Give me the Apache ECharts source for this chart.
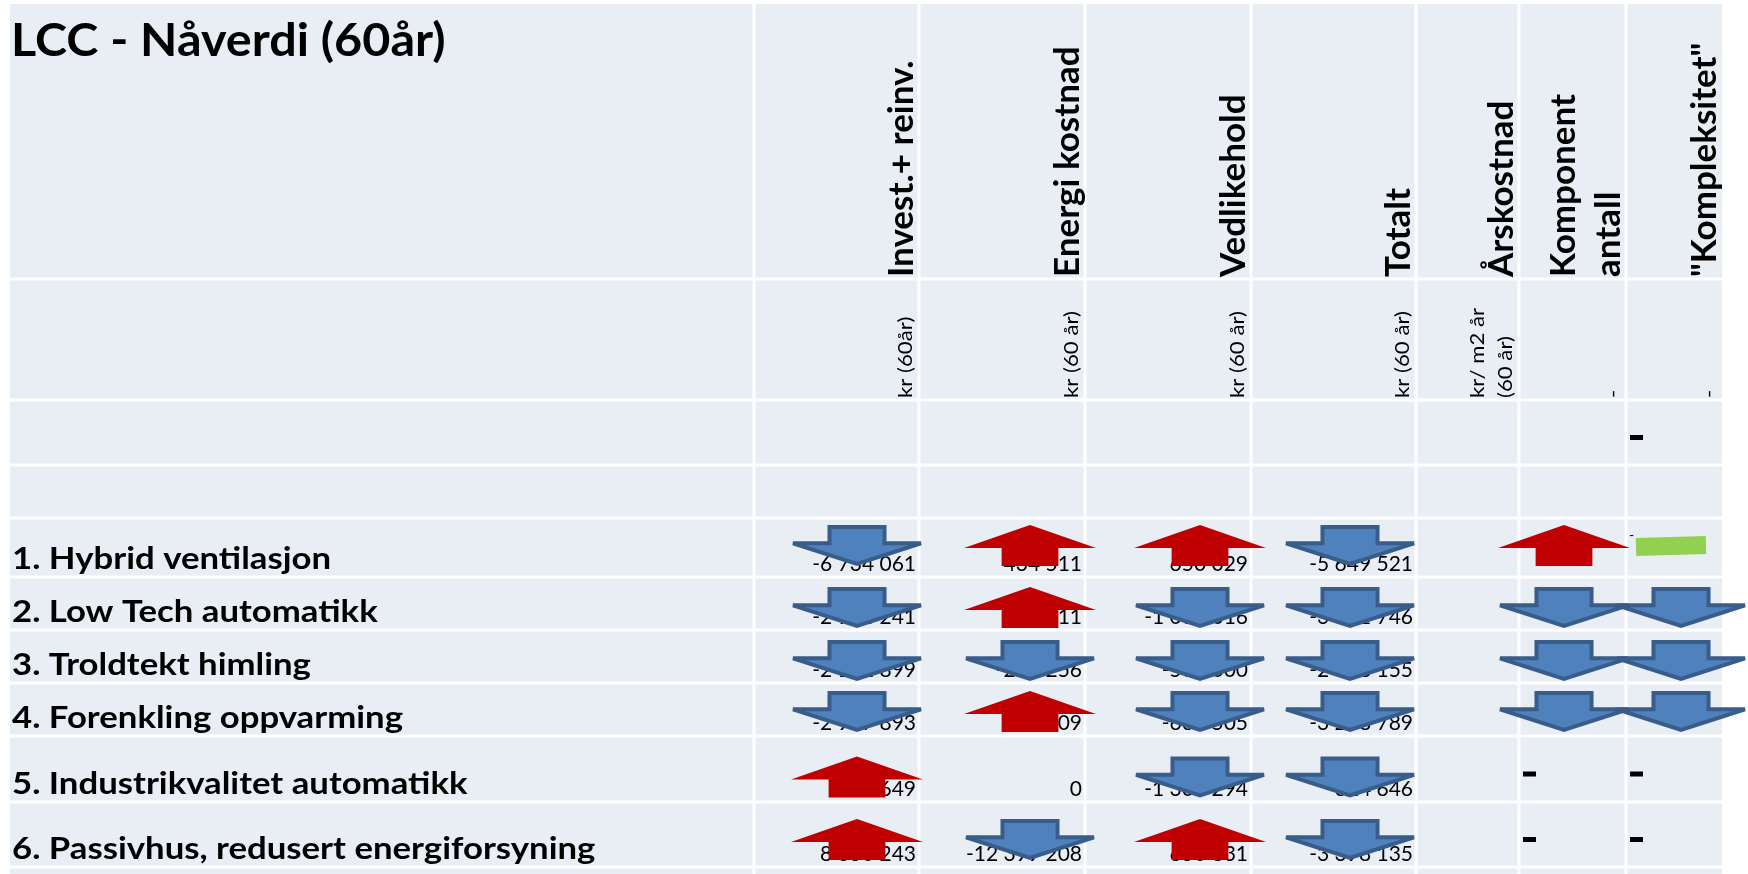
<!DOCTYPE html>
<html>
<head>
<meta charset="utf-8">
<script src="https://cdn.jsdelivr.net/npm/echarts@6/dist/echarts.min.js"></script>
<style>
  html, body { margin: 0; padding: 0; background: #ffffff; }
  #chart { width: 1748px; height: 874px; }
</style>
</head>
<body>
<div id="chart"></div>
<script>
// ---- data -------------------------------------------------------------
const title = 'LCC - Nåverdi (60år)';
const measures = [
  '1. Hybrid ventilasjon',
  '2. Low Tech automatikk',
  '3. Troldtekt himling',
  '4. Forenkling oppvarming',
  '5. Industrikvalitet automatikk',
  '6. Passivhus, redusert energiforsyning'
];
const headers = ['Invest.+ reinv.', 'Energi kostnad', 'Vedlikehold', 'Totalt', 'Årskostnad', 'Komponent\nantall', '"Kompleksitet"'];
const units = ['kr (60år)', 'kr (60 år)', 'kr (60 år)', 'kr (60 år)', 'kr/ m2 år\n(60 år)', '-', '-'];

// kr over 60 years (present value)
const invest      = [-6734061, -2934241, -2151899, -2967893,  677649,   8350243];
const energi      = [  434511,   434511,  -226256,   347609,       0, -12399208];
const vedlikehold = [  650029, -1062016,  -500000,  -668505, -1302294,   650831];
const totalt      = [-5649521, -3561746, -2878155, -3288789,  -624646,  -3398135];
const arskostnad  = [null, null, null, null, null, null];
// qualitative change: 1 = more, -1 = fewer/simpler, 0 = unchanged, null = not assessed
const komponent    = [1, -1, -1, -1, null, null];
const kompleksitet = [0, -1, -1, -1, null, null];
// the empty row below the units only carries a dash in the last column
const emptyRow = [undefined, undefined, undefined, undefined, undefined, undefined, null];

// ---- layout (table grid in px, arrow placement, fonts) ----------------
const W = 1748, H = 874;
const colEdges = [10, 754, 919, 1085, 1251, 1416, 1519, 1626, 1722];
const rowEdges = [4, 279, 400, 465, 518, 577, 630, 683, 736, 802, 867, 900];
const GAP = 3;
const FIRST_DATA_ROW = 4;
const arrowDx = [0, -62, -55, -51, -66, 0, -62, -41];   // arrow centre from the column's right edge
const arrowDy = [-2, 4, 4, 2, 8, 5];                    // arrow centre from the row's centre
const ARROW_W = 132, ARROW_H = 41;
const FONT = 'Lato';
const BG = '#E9EDF4';
const UP = '#C00000', DOWN_FILL = '#4F81BD', DOWN_LINE = '#385D8A', SAME = '#92D050';

const DOWN_PATH = 'M28.5 0 L71.5 0 L71.5 44 L100 44 L50 100 L0 44 L28.5 44 Z';
const UP_PATH   = 'M50 0 L100 56 L71.5 56 L71.5 100 L28.5 100 L28.5 56 L0 56 Z';

// ---- derived items ----------------------------------------------------
const costCols = [invest, energi, vedlikehold, totalt];
const qualCols = {6: komponent, 7: kompleksitet};

function fmt(v) {
  const s = Math.abs(Math.round(v)).toString().replace(/\B(?=(\d{3})+(?!\d))/g, ' ');
  return (v < 0 ? '-' : '') + s;
}

const cells = [];
for (let r = 0; r < rowEdges.length - 1; r++) {
  for (let c = 0; c < colEdges.length - 1; c++) cells.push({c, r});
}

const numbers = [];
const arrows = [];
const bars = [];
const dashes = [];
const smallDashes = [];
measures.forEach((m, i) => {
  const r = FIRST_DATA_ROW + i;
  costCols.forEach((arr, k) => {
    const c = k + 1, v = arr[i];
    numbers.push({c, r, text: fmt(v)});
    if (v !== 0) arrows.push({c, r, i, dir: v > 0 ? 1 : -1});
  });
  Object.keys(qualCols).forEach(key => {
    const c = +key, v = qualCols[key][i];
    if (v === null) dashes.push({c, r});
    else if (v === 0) { bars.push({c, r}); smallDashes.push({c, r}); }
    else arrows.push({c, r, i, dir: v});
  });
});
emptyRow.forEach((v, k) => { if (v === null) dashes.push({c: k + 1, r: 2}); });

// ---- helpers ----------------------------------------------------------
function pt(api, x, y) { return api.coord([x, y]); }
function seriesOf(items, render, z) {
  return {
    type: 'custom',
    coordinateSystem: 'cartesian2d',
    data: items.map(d => [d.c, d.r]),
    renderItem: (params, api) => render(items[params.dataIndex], api),
    silent: true,
    z: z
  };
}

// ---- chart ------------------------------------------------------------
const chart = echarts.init(document.getElementById('chart'), null, {renderer: 'canvas'});
chart.setOption({
  animation: false,
  backgroundColor: '#ffffff',
  grid: {left: 0, right: 0, top: 0, bottom: 0},
  xAxis: {type: 'value', min: 0, max: W, show: false},
  yAxis: {type: 'value', min: 0, max: H, inverse: true, show: false},
  series: [
    // table cells
    seriesOf(cells, (d, api) => {
      const last = colEdges.length - 2;
      const x0 = colEdges[d.c] + (d.c > 0 ? GAP / 2 : 0);
      const x1 = colEdges[d.c + 1] - (d.c < last ? GAP / 2 : 0);
      const y0 = rowEdges[d.r] + (d.r > 0 ? GAP / 2 : 0);
      const y1 = rowEdges[d.r + 1] - GAP / 2;
      const a = pt(api, x0, y0), b = pt(api, x1, y1);
      return {type: 'rect', shape: {x: a[0], y: a[1], width: b[0] - a[0], height: b[1] - a[1]}, style: {fill: BG}};
    }, 1),
    // title
    seriesOf([{c: 0, r: 0}], (d, api) => {
      const p = pt(api, colEdges[0] + 1, 64);
      return {type: 'text', x: p[0], y: p[1], scaleX: 1.055,
        style: {text: title, fill: '#000', fontFamily: FONT, fontWeight: 'bold', fontSize: 46, align: 'left', verticalAlign: 'bottom'}};
    }, 2),
    // column headers (rotated)
    seriesOf(headers.map((h, k) => ({c: k + 1, r: 0, text: h})), (d, api) => {
      const p = pt(api, colEdges[d.c + 1] + 5, rowEdges[1] - 2);
      return {type: 'text', x: p[0], y: p[1], rotation: Math.PI / 2,
        style: {text: d.text, fill: '#000', fontFamily: FONT, fontWeight: 'bold', fontSize: 35, lineHeight: 45, align: 'left', verticalAlign: 'bottom'}};
    }, 2),
    // units row (rotated)
    seriesOf(units.map((u, k) => ({c: k + 1, r: 1, text: u})), (d, api) => {
      const p = pt(api, colEdges[d.c + 1] + 1, rowEdges[2] - 2);
      return {type: 'text', x: p[0], y: p[1], rotation: Math.PI / 2, scaleX: 1.11,
        style: {text: d.text, fill: '#000', fontFamily: FONT, fontSize: 20, lineHeight: 28, align: 'left', verticalAlign: 'bottom'}};
    }, 2),
    // measure labels
    seriesOf(measures.map((m, i) => ({c: 0, r: FIRST_DATA_ROW + i, text: m})), (d, api) => {
      const p = pt(api, colEdges[0] + 2, rowEdges[d.r + 1] - 3);
      return {type: 'text', x: p[0], y: p[1], scaleX: 1.12,
        style: {text: d.text, fill: '#000', fontFamily: FONT, fontWeight: 'bold', fontSize: 31, align: 'left', verticalAlign: 'bottom'}};
    }, 2),
    // values
    seriesOf(numbers, (d, api) => {
      const p = pt(api, colEdges[d.c + 1] - 3, rowEdges[d.r + 1] - 2);
      return {type: 'text', x: p[0], y: p[1], style: {text: d.text, fill: '#000', fontFamily: FONT, fontSize: 21, align: 'right', verticalAlign: 'bottom'}};
    }, 3),
    // change arrows
    seriesOf(arrows, (d, api) => {
      const cx = colEdges[d.c + 1] + arrowDx[d.c];
      const cy = (rowEdges[d.r] + rowEdges[d.r + 1]) / 2 + arrowDy[d.i];
      const a = pt(api, cx - ARROW_W / 2, cy - ARROW_H / 2), b = pt(api, cx + ARROW_W / 2, cy + ARROW_H / 2);
      if (d.dir > 0) {
        return {type: 'path', shape: {pathData: UP_PATH, layout: 'cover', x: a[0], y: a[1], width: b[0] - a[0], height: b[1] - a[1]}, style: {fill: UP}};
      }
      const lw = 4;
      return {type: 'path', shape: {pathData: DOWN_PATH, layout: 'cover', x: a[0] + lw / 2, y: a[1] + lw / 2, width: b[0] - a[0] - lw, height: b[1] - a[1] - lw},
        style: {fill: DOWN_FILL, stroke: DOWN_LINE, lineWidth: lw, lineJoin: 'miter', miterLimit: 4}};
    }, 4),
    // unchanged marker
    seriesOf(bars, (d, api) => {
      const cx = colEdges[d.c + 1] - 51;
      const cy = (rowEdges[d.r] + rowEdges[d.r + 1]) / 2 - 1.5;
      const p = pt(api, cx, cy);
      return {type: 'rect', x: p[0], y: p[1], rotation: 0.028, shape: {x: -35, y: -9, width: 70, height: 18}, style: {fill: SAME}};
    }, 4),
    seriesOf(smallDashes, (d, api) => {
      const p = pt(api, colEdges[d.c] + 3, rowEdges[d.r] + 17);
      return {type: 'text', x: p[0], y: p[1], style: {text: '-', fill: '#000', fontFamily: FONT, fontSize: 14, align: 'left', verticalAlign: 'middle'}};
    }, 4),
    // not assessed
    seriesOf(dashes, (d, api) => {
      const cy = (rowEdges[d.r] + rowEdges[d.r + 1]) / 2 + 5;
      const a = pt(api, colEdges[d.c] + 4, cy - 2.5), b = pt(api, colEdges[d.c] + 17, cy + 2.5);
      return {type: 'rect', shape: {x: a[0], y: a[1], width: b[0] - a[0], height: b[1] - a[1]}, style: {fill: '#000'}};
    }, 4)
  ]
});
</script>
</body>
</html>
